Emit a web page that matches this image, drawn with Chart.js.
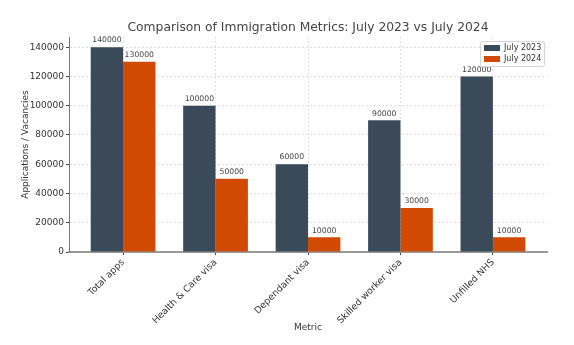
<!DOCTYPE html>
<html lang="en">
<head>
    <meta charset="UTF-8">
    <title>Comparison of Immigration Metrics</title>
    <script src="https://cdn.jsdelivr.net/npm/chart.js"></script>
    <style>
        html, body { margin: 0; padding: 0; background: #fff; }
        #wrap { width: 574px; height: 345px; }
    </style>
</head>
<body>
    <div id="wrap"><canvas id="metricsChart" width="574" height="345"></canvas></div>

    <script>
        const categories = ['Total apps', 'Health & Care visa', 'Dependant visa', 'Skilled worker visa', 'Unfilled NHS'];
        const seriesLabels = ['July 2023', 'July 2024'];
        const july2023 = [140000, 100000, 60000, 90000, 120000];
        const july2024 = [130000, 50000, 10000, 30000, 10000];
        const yTicks = [0, 20000, 40000, 60000, 80000, 100000, 120000, 140000];

        const chartTitle = 'Comparison of Immigration Metrics: July 2023 vs July 2024';
        const colors = ['#3a4a59', '#d04a02'];
        const fontFamily = '"DejaVu Sans", sans-serif';

        // title centred over the plot area, like matplotlib does
        const plotTitle = {
            id: 'plotTitle',
            afterDraw(chart) {
                const ctx = chart.ctx;
                const area = chart.chartArea;
                ctx.save();
                ctx.font = '12.3px ' + fontFamily;
                ctx.fillStyle = '#444';
                ctx.textAlign = 'center';
                ctx.textBaseline = 'middle';
                ctx.fillText(chartTitle, (area.left + area.right) / 2, area.top - 9);
                ctx.restore();
            }
        };

        // value labels above each bar
        const barLabels = {
            id: 'barLabels',
            afterDatasetsDraw(chart) {
                const ctx = chart.ctx;
                ctx.save();
                ctx.font = '7.7px ' + fontFamily;
                ctx.fillStyle = '#444';
                ctx.textAlign = 'center';
                ctx.textBaseline = 'bottom';
                chart.data.datasets.forEach((ds, di) => {
                    chart.getDatasetMeta(di).data.forEach((bar, i) => {
                        ctx.fillText(String(ds.data[i].y), bar.x, bar.y - 3);
                    });
                });
                ctx.restore();
            }
        };

        // matplotlib-style legend box in the upper right of the plot
        const boxLegend = {
            id: 'boxLegend',
            afterDraw(chart) {
                const ctx = chart.ctx;
                const area = chart.chartArea;
                const w = 64, h = 25;
                const x = area.right - w - 3, y = area.top + 4;
                ctx.save();
                ctx.fillStyle = 'rgba(255,255,255,0.85)';
                ctx.strokeStyle = '#d5d5d5';
                ctx.lineWidth = 1;
                ctx.beginPath();
                ctx.roundRect(x + 0.5, y + 0.5, w, h, 2);
                ctx.fill();
                ctx.stroke();
                ctx.font = '8px ' + fontFamily;
                ctx.textBaseline = 'middle';
                ctx.textAlign = 'left';
                chart.data.datasets.forEach((ds, i) => {
                    const cy = y + 7 + i * 11;
                    ctx.fillStyle = ds.backgroundColor;
                    ctx.fillRect(x + 4, cy - 3, 16, 6);
                    ctx.fillStyle = '#333';
                    ctx.fillText(ds.label, x + 24, cy);
                });
                ctx.restore();
            }
        };

        const ctx = document.getElementById('metricsChart').getContext('2d');
        new Chart(ctx, {
            type: 'bar',
            data: {
                datasets: [{
                    label: seriesLabels[0],
                    data: july2023.map((v, i) => ({ x: i, y: v })),
                    backgroundColor: colors[0]
                }, {
                    label: seriesLabels[1],
                    data: july2024.map((v, i) => ({ x: i, y: v })),
                    backgroundColor: colors[1]
                }]
            },
            options: {
                responsive: false,
                animation: false,
                categoryPercentage: 0.7,
                barPercentage: 1.0,
                layout: { padding: { left: 0, right: 27, top: 37, bottom: 10 } },
                plugins: {
                    legend: { display: false },
                    tooltip: { enabled: false },
                    title: { display: false }
                },
                scales: {
                    x: {
                        type: 'linear',
                        min: -0.585,
                        max: 4.585,
                        offset: false,
                        afterBuildTicks: scale => { scale.ticks = categories.map((c, i) => ({ value: i })); },
                        afterFit: scale => { scale.height = 83; },
                        ticks: {
                            autoSkip: false,
                            minRotation: 45,
                            maxRotation: 45,
                            padding: 2,
                            color: '#333',
                            font: { family: fontFamily, size: 9.3 },
                            callback: v => categories[v] ?? ''
                        },
                        grid: {
                            offset: false,
                            color: 'rgba(0,0,0,0.13)',
                            drawTicks: true,
                            tickLength: 3,
                            tickColor: '#444',
                            tickBorderDash: []
                        },
                        border: { color: '#999', width: 2, dash: [2, 2] },
                        title: {
                            display: true,
                            text: 'Metric',
                            color: '#333',
                            font: { family: fontFamily, size: 9 },
                            padding: { top: 0, bottom: 2 }
                        }
                    },
                    y: {
                        min: 0,
                        max: 147000,
                        afterBuildTicks: scale => { scale.ticks = yTicks.map(v => ({ value: v })); },
                        afterFit: scale => { scale.width = 69; },
                        ticks: {
                            padding: 2,
                            color: '#333',
                            font: { family: fontFamily, size: 9 },
                            callback: v => String(v)
                        },
                        grid: {
                            color: 'rgba(0,0,0,0.13)',
                            drawTicks: true,
                            tickLength: 3,
                            tickColor: '#444',
                            tickBorderDash: []
                        },
                        border: { color: '#777', width: 1, dash: [2, 2] },
                        title: {
                            display: true,
                            text: 'Applications / Vacancies',
                            color: '#333',
                            font: { family: fontFamily, size: 9 },
                            padding: { top: 20, bottom: 0 }
                        }
                    }
                }
            },
            plugins: [barLabels, boxLegend, plotTitle]
        });
    </script>
</body>
</html>
